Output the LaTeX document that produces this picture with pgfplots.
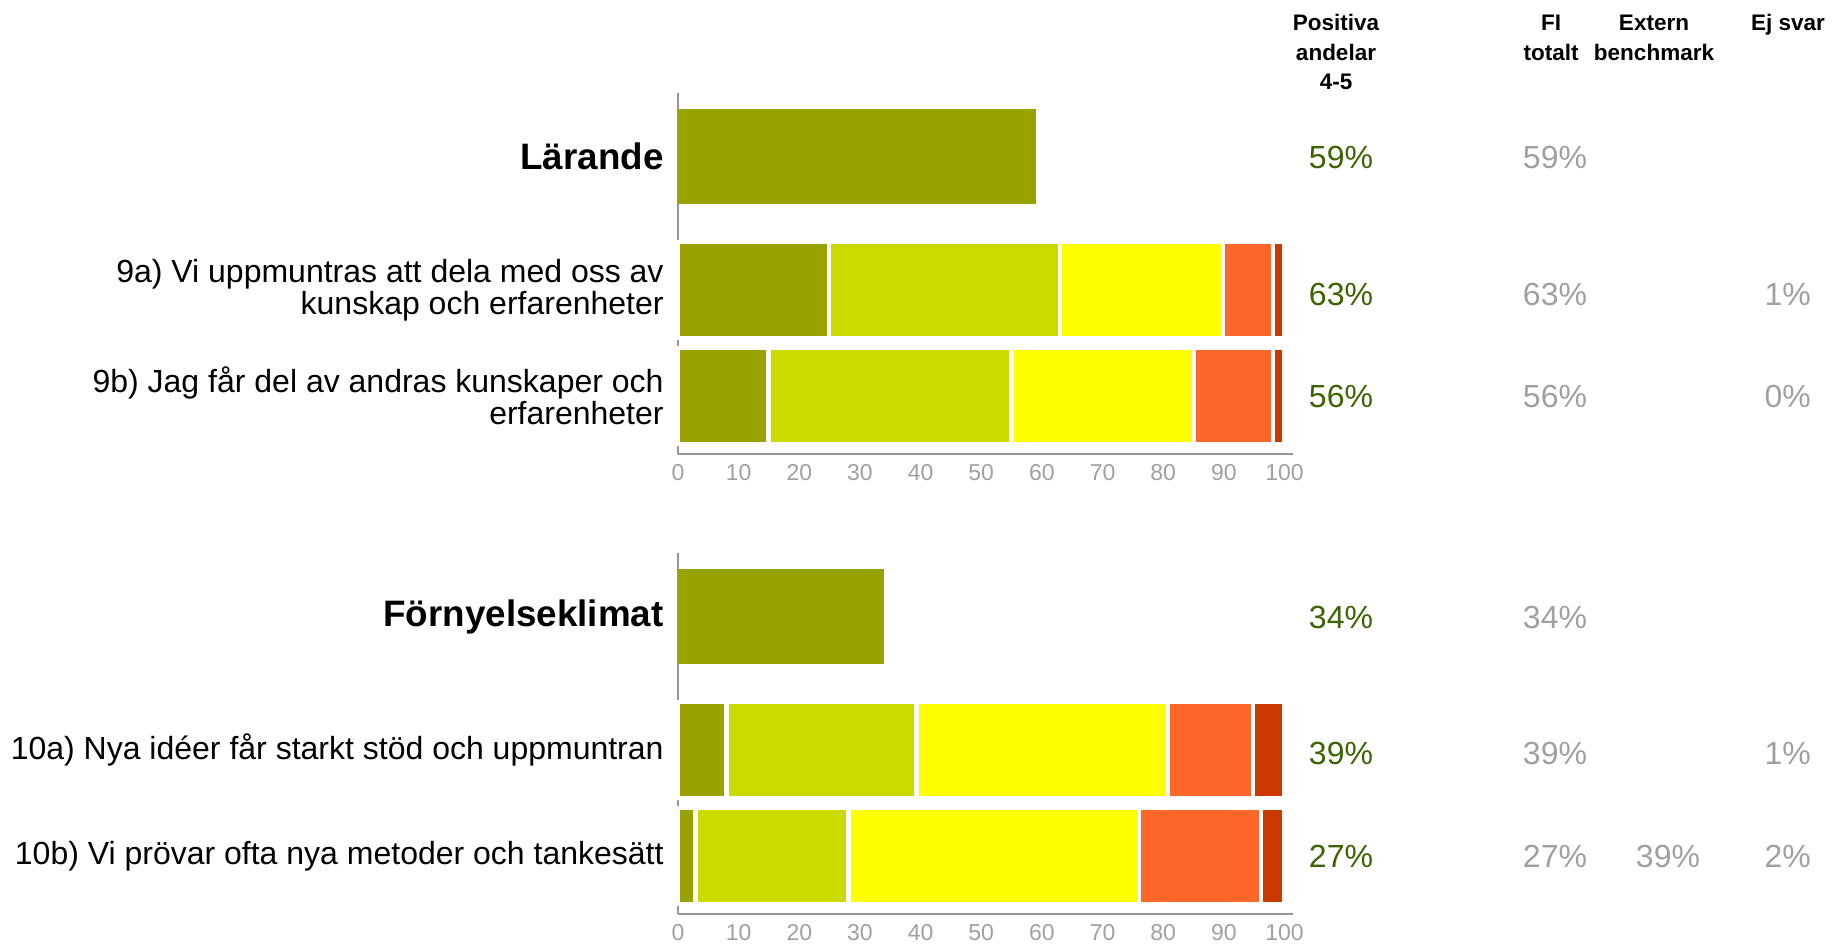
\documentclass[border=0pt]{standalone}
\usepackage{pgfplots}
\pgfplotsset{compat=1.18}
\usepackage{fontspec}
\setmainfont{Liberation Sans}
\definecolor{c1}{RGB}{153,163,0}
\definecolor{c2}{RGB}{204,218,0}
\definecolor{c3}{RGB}{255,255,0}
\definecolor{c4}{RGB}{255,102,41}
\definecolor{c5}{RGB}{204,57,0}
\definecolor{posgreen}{RGB}{60,100,0}
\definecolor{txtgray}{RGB}{160,160,160}
\definecolor{axgray}{RGB}{150,150,150}
\pgfplotsset{
  panel/.style={width=307.5pt,height=180.5pt,scale only axis,
    xmin=0,xmax=101.4,ymin=-361,ymax=0,anchor=north west,clip=false},
  frame/.style={axis lines*=left,
    axis line style={draw=axgray,line width=1pt},
    major tick length=0pt,
    xtick={0,10,...,100},
    xticklabels={0,10,20,30,40,50,60,70,80,90,100},
    xticklabel style={font=\fontsize{11.5}{13}\selectfont,text=txtgray,inner sep=0pt,yshift=-5pt},
    ytick={-63.5,-197,-303},
    yticklabel style={align=right,inner sep=0pt,xshift=-7pt,text=black,
      font=\fontsize{16}{14.75}\selectfont}},
  items/.style={hide axis,xbar stacked,bar width=96},
  seg/.style={fill=#1,draw=white,line width=2.15pt},
}
\newcommand{\catl}[1]{\fontsize{18.4}{22}\selectfont\bfseries #1}
\begin{document}
\begin{tikzpicture}
\path[use as bounding box] (0,0) rectangle (916.5pt,-472.5pt);
% ---------- Panel 1: Lärande ----------
\begin{axis}[panel,frame,at={(339pt,-46.5pt)},
  yticklabels={{\catl{Lärande}},
    {9a) Vi uppmuntras att dela med oss av\\kunskap och erfarenheter},
    {9b) Jag får del av andras kunskaper och\\erfarenheter}}]
\addplot[xbar,bar width=95,fill=c1,draw=none] coordinates {(59,-63.5)};
\end{axis}
\begin{axis}[panel,items,at={(339pt,-46.5pt)}]
\addplot[seg=c1] coordinates {(24.9,-197) (14.9,-303)};
\addplot[seg=c2] coordinates {(38.1,-197) (40.1,-303)};
\addplot[seg=c3] coordinates {(26.9,-197) (30.1,-303)};
\addplot[seg=c4] coordinates {(8.2,-197) (13.0,-303)};
\addplot[seg=c5] coordinates {(1.9,-197) (1.9,-303)};
\end{axis}
% ---------- Panel 2: Förnyelseklimat ----------
\begin{axis}[panel,frame,at={(339pt,-276.5pt)},
  yticklabels={{\catl{Förnyelseklimat}},
    {10a) Nya idéer får starkt stöd och uppmuntran},
    {10b) Vi prövar ofta nya metoder och tankesätt}}]
\addplot[xbar,bar width=95,fill=c1,draw=none] coordinates {(34,-63.5)};
\end{axis}
\begin{axis}[panel,items,at={(339pt,-276.5pt)}]
\addplot[seg=c1] coordinates {(8.0,-197) (2.9,-303)};
\addplot[seg=c2] coordinates {(31.3,-197) (25.2,-303)};
\addplot[seg=c3] coordinates {(41.5,-197) (47.9,-303)};
\addplot[seg=c4] coordinates {(14.0,-197) (20.1,-303)};
\addplot[seg=c5] coordinates {(5.2,-197) (3.9,-303)};
\end{axis}
% ---------- Columns ----------
\begin{scope}[x=0.5pt,y=-0.5pt]
\tikzset{hd/.style={anchor=base,font=\fontsize{11.25}{14}\selectfont\bfseries},
  pv/.style={anchor=base,font=\fontsize{16}{18}\selectfont,text=posgreen},
  gv/.style={anchor=base,font=\fontsize{16}{18}\selectfont,text=txtgray},
  ev/.style={anchor=base east,font=\fontsize{16}{18}\selectfont,text=txtgray}}
\node[hd] at (1336,31) {Positiva};
\node[hd] at (1336,61) {andelar};
\node[hd] at (1336,90) {4-5};
\node[hd] at (1551,31) {FI};
\node[hd] at (1551,61) {totalt};
\node[hd] at (1654,31) {Extern};
\node[hd] at (1654,61) {benchmark};
\node[hd] at (1788,31) {Ej svar};
% positive
\node[pv] at (1341,169) {59\%};
\node[pv] at (1341,306) {63\%};
\node[pv] at (1341,408) {56\%};
\node[pv] at (1341,628.5) {34\%};
\node[pv] at (1341,765) {39\%};
\node[pv] at (1341,868) {27\%};
% FI totalt
\node[gv] at (1555,169) {59\%};
\node[gv] at (1555,306) {63\%};
\node[gv] at (1555,408) {56\%};
\node[gv] at (1555,628.5) {34\%};
\node[gv] at (1555,765) {39\%};
\node[gv] at (1555,868) {27\%};
% benchmark
\node[gv] at (1668,868) {39\%};
% ej svar
\node[ev] at (1818,306) {1\%};
\node[ev] at (1818,408) {0\%};
\node[ev] at (1818,765) {1\%};
\node[ev] at (1818,868) {2\%};
\end{scope}
\end{tikzpicture}
\end{document}
